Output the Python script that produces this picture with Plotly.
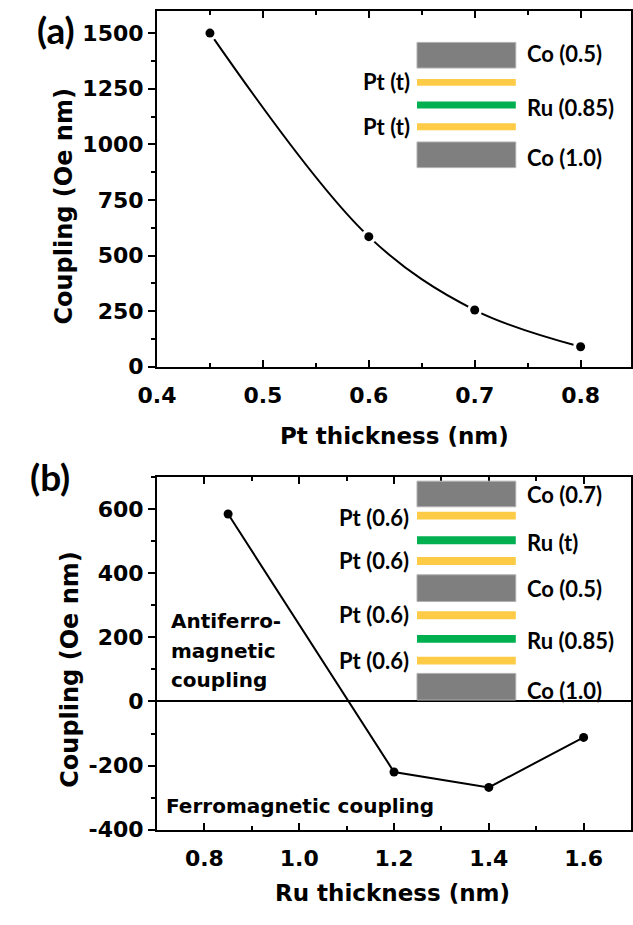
import plotly.graph_objects as go

# ---------------- data ----------------
pt_thickness = [0.45, 0.6, 0.7, 0.8]
coupling_a = [1500, 585, 255, 90]

ru_thickness = [0.85, 1.2, 1.4, 1.6]
coupling_b = [585, -220, -268, -112]

xticks_a = [0.4, 0.5, 0.6, 0.7, 0.8]
xlabels_a = ["0.4", "0.5", "0.6", "0.7", "0.8"]
yticks_a = [0, 250, 500, 750, 1000, 1250, 1500]
ylabels_a = ["0", "250", "500", "750", "1000", "1250", "1500"]

xticks_b = [0.8, 1.0, 1.2, 1.4, 1.6]
xlabels_b = ["0.8", "1.0", "1.2", "1.4", "1.6"]
yticks_b = [-400, -200, 0, 200, 400, 600]
ylabels_b = ["-400", "-200", "0", "200", "400", "600"]

stack_a_right = ["Co (0.5)", "Ru (0.85)", "Co (1.0)"]
stack_a_left = ["Pt (t)", "Pt (t)"]
stack_b_right = ["Co (0.7)", "Ru (t)", "Co (0.5)", "Ru (0.85)", "Co (1.0)"]
stack_b_left = ["Pt (0.6)", "Pt (0.6)", "Pt (0.6)", "Pt (0.6)"]

# ---------------- geometry helpers ----------------
W, H = 633, 925


def px(x):
    return x / W


def py(y):
    return 1 - y / H


TICK_FONT = dict(family="DejaVu Sans", size=22, color="black", weight="bold")
TITLE_FONT = dict(family="DejaVu Sans", size=23, color="black", weight="bold")
YTITLE_FONT = dict(family="DejaVu Sans", size=24, color="black", weight="bold")
NOTE_FONT = dict(family="DejaVu Sans", size=20, color="black", weight="bold")
INSET_FONT = dict(family="Lato", size=22, color="black", weight="bold")
PANEL_FONT = dict(family="Lato", size=37, color="black", weight="bold")

XDOM = [px(142.5), px(632)]
YDOM_A = [py(372), py(11)]
YDOM_B = [py(841.5), py(484)]

fig = go.Figure()

# panel (a)
fig.add_trace(go.Scatter(x=pt_thickness, y=coupling_a, mode="lines",
                         line=dict(shape="spline", smoothing=1.0, color="black", width=2),
                         xaxis="x", yaxis="y", showlegend=False, hoverinfo="skip"))
fig.add_trace(go.Scatter(x=pt_thickness, y=coupling_a, mode="markers",
                         marker=dict(size=15, color="white"),
                         xaxis="x", yaxis="y", showlegend=False, hoverinfo="skip"))
fig.add_trace(go.Scatter(x=pt_thickness, y=coupling_a, mode="markers",
                         marker=dict(size=9, color="black"),
                         xaxis="x", yaxis="y", showlegend=False))

# panel (b)
fig.add_trace(go.Scatter(x=ru_thickness, y=coupling_b, mode="lines+markers",
                         line=dict(color="black", width=2),
                         marker=dict(size=9, color="black"),
                         xaxis="x2", yaxis="y2", showlegend=False))

common_x = dict(showline=True, linecolor="black", linewidth=2, mirror="ticks",
                ticks="inside", ticklen=7, tickwidth=1.5, tickcolor="black",
                showgrid=False, zeroline=False, tickfont=TICK_FONT,
                ticklabelstandoff=8)
common_y = dict(showline=True, linecolor="black", linewidth=2, mirror=True,
                ticks="outside", ticklen=7, tickwidth=1.5, tickcolor="black",
                showgrid=False, tickfont=TICK_FONT)
right_y = dict(showline=False, ticks="inside", ticklen=7, tickwidth=1.5,
               tickcolor="black", showgrid=False, zeroline=False,
               showticklabels=False, side="right")

fig.update_layout(
    width=W, height=H,
    margin=dict(l=0, r=0, t=0, b=0),
    paper_bgcolor="white", plot_bgcolor="white",
    showlegend=False,
    xaxis=dict(domain=XDOM, anchor="y", range=[0.4, 0.8476],
               tickvals=xticks_a, ticktext=xlabels_a,
               minor=dict(ticks="inside", ticklen=4, tickwidth=1.5, dtick=0.05,
                          tick0=0.4, tickcolor="black"),
               **common_x),
    yaxis=dict(domain=YDOM_A, anchor="x", range=[0, 1600], zeroline=False,
               tickvals=yticks_a, ticktext=ylabels_a,
               minor=dict(ticks="outside", ticklen=4, tickwidth=1.5, dtick=125,
                          tick0=0, tickcolor="black"),
               **common_y),
    yaxis3=dict(overlaying="y", anchor="x", range=[0, 1600],
                tickvals=yticks_a,
                minor=dict(ticks="inside", ticklen=4, tickwidth=1.5, dtick=125,
                           tick0=0, tickcolor="black"),
                **right_y),
    xaxis2=dict(domain=XDOM, anchor="y2", range=[0.7, 1.7],
                tickvals=xticks_b, ticktext=xlabels_b,
                minor=dict(ticks="inside", ticklen=4, tickwidth=1.5, dtick=0.1,
                           tick0=0.7, tickcolor="black"),
                **common_x),
    yaxis2=dict(domain=YDOM_B, anchor="x2", range=[-400, 700],
                zeroline=True, zerolinecolor="black", zerolinewidth=1.5,
                tickvals=yticks_b, ticktext=ylabels_b,
                minor=dict(ticks="outside", ticklen=4, tickwidth=1.5, dtick=100,
                           tick0=0, tickcolor="black"),
                **common_y),
    yaxis4=dict(overlaying="y2", anchor="x2", range=[-400, 700],
                tickvals=yticks_b,
                minor=dict(ticks="inside", ticklen=4, tickwidth=1.5, dtick=100,
                           tick0=0, tickcolor="black"),
                **right_y),
)

# ---------------- layer-stack insets ----------------
GRAY, GRAY_EDGE = "#7f7f7f", "#b0b0b0"
YELLOW, GREEN = "#FDCB45", "#00B050"
shapes = []


def layer(y0, y1, color, edge=None):
    shapes.append(dict(type="rect", xref="paper", yref="paper",
                       x0=px(411), x1=px(513), y0=py(y1), y1=py(y0),
                       fillcolor=color,
                       line=dict(color=edge or color, width=1 if edge else 0),
                       layer="above"))


# panel (a) stack
layer(43, 69, GRAY, GRAY_EDGE)
layer(80, 87, YELLOW)
layer(103, 110, GREEN)
layer(125, 132, YELLOW)
layer(144, 170, GRAY, GRAY_EDGE)

# panel (b) stack
layer(488, 514, GRAY, GRAY_EDGE)
layer(519, 527, YELLOW)
layer(544, 552, GREEN)
layer(565, 573, YELLOW)
layer(583, 610, GRAY, GRAY_EDGE)
layer(620, 628, YELLOW)
layer(644, 652, GREEN)
layer(666, 674, YELLOW)
layer(683, 710, GRAY, GRAY_EDGE)

fig.update_layout(shapes=shapes)

ann = []


def text(x, y, s, font, anchor="left", angle=0):
    ann.append(dict(x=px(x), y=py(y), xref="paper", yref="paper", text=s,
                    showarrow=False, xanchor=anchor, yanchor="middle",
                    font=font, textangle=angle))


# inset labels (a)
for s, y in zip(stack_a_right, [54, 109, 160]):
    text(522, y, s, INSET_FONT)
for s, y in zip(stack_a_left, [83, 128]):
    text(406, y, s, INSET_FONT, anchor="right")

# inset labels (b)
for s, y in zip(stack_b_right, [502, 550, 597, 650, 700]):
    text(523, y, s, INSET_FONT)
for s, y in zip(stack_b_left, [525, 568, 623, 670]):
    text(405, y, s, INSET_FONT, anchor="right")

# panel letters
text(38, 30, "(a)", PANEL_FONT, anchor="center")
text(32, 483, "(b)", PANEL_FONT, anchor="center")

# axis titles
text(388, 442, "Pt thickness (nm)", TITLE_FONT, anchor="center")
text(386, 906, "Ru thickness (nm)", TITLE_FONT, anchor="center")
text(47, 209, "Coupling (Oe nm)", YTITLE_FONT, anchor="center", angle=-90)
text(53, 679, "Coupling (Oe nm)", YTITLE_FONT, anchor="center", angle=-90)

# regime notes
text(155, 630, "Antiferro-", NOTE_FONT)
text(155, 660, "magnetic", NOTE_FONT)
text(155, 690, "coupling", NOTE_FONT)
text(150, 817, "Ferromagnetic coupling", NOTE_FONT)

fig.update_layout(annotations=ann)

fig.write_html("out.html", config={"displayModeBar": False},
               post_script="document.body.style.margin='0';document.body.style.padding='0';")
